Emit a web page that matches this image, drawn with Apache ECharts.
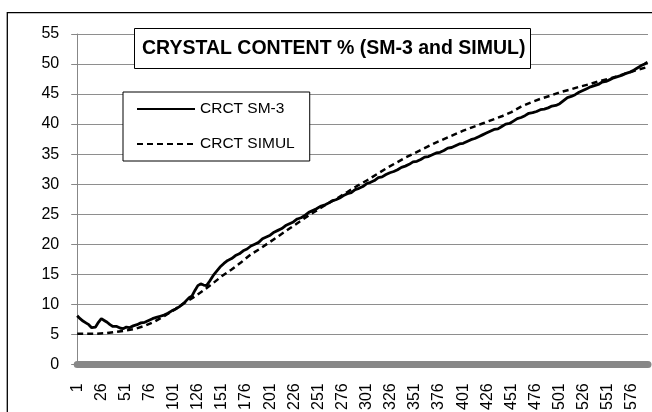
<!DOCTYPE html>
<html>
<head>
<meta charset="utf-8">
<script src="https://cdn.jsdelivr.net/npm/echarts@6/dist/echarts.min.js"></script>
<style>
  html, body { margin: 0; padding: 0; background: #fff; }
  #chart { width: 652px; height: 412px; }
</style>
</head>
<body>
<div id="chart"></div>
<script>
// x = sample number - 1 (axis labels show 1, 26, 51 ...)
const sm3X = [0, 3, 6, 9, 12, 15, 17, 19, 22, 25, 28, 31, 34, 37, 41, 45, 48, 51, 54, 58,
  62, 66, 70, 74, 78, 82, 86, 90, 94, 98, 102, 106, 110, 113, 116, 119, 122, 125, 128, 131,
  134, 137, 141, 145, 148, 152, 156, 160, 164, 168, 172, 176, 180, 184, 188, 192, 196, 200, 204, 208,
  212, 216, 220, 224, 228, 232, 236, 240, 244, 248, 252, 256, 260, 264, 268, 272, 276, 280, 284, 288,
  292, 296, 300, 304, 308, 312, 316, 320, 324, 328, 332, 336, 340, 344, 348, 352, 356, 360, 364, 368,
  372, 376, 380, 384, 388, 392, 396, 400, 404, 408, 412, 416, 420, 424, 428, 432, 436, 440, 444, 448,
  452, 456, 460, 464, 468, 472, 476, 480, 484, 488, 492, 496, 500, 504, 508, 512, 516, 520, 524, 528,
  532, 536, 540, 544, 548, 552, 556, 560, 564, 568, 572, 576, 580, 584, 588, 591]
const sm3Y = [8.1, 7.6, 7.2, 6.9, 6.6, 6.1, 5.8, 6.2, 7.0, 7.6, 7.3, 7.0, 6.6, 6.3, 6.3, 6.0, 5.95, 6.2, 6.1, 6.4,
  6.6, 6.9, 7.0, 7.3, 7.6, 7.8, 8.0, 8.2, 8.5, 8.9, 9.2, 9.6, 10.1, 10.6, 11.1, 11.4, 12.3, 13.1, 13.4, 13.2,
  13.1, 13.8, 14.8, 15.6, 16.2, 16.8, 17.3, 17.6, 18.1, 18.4, 18.9, 19.2, 19.7, 20.0, 20.3, 20.9, 21.2, 21.5, 22.0, 22.3,
  22.6, 23.1, 23.4, 23.7, 24.2, 24.4, 24.8, 25.3, 25.6, 25.9, 26.3, 26.5, 26.8, 27.2, 27.4, 27.7, 28.1, 28.4, 28.6, 29.1,
  29.3, 29.6, 30.1, 30.3, 30.6, 31.1, 31.2, 31.6, 31.9, 32.1, 32.4, 32.8, 33.0, 33.3, 33.7, 33.8, 34.1, 34.5, 34.6, 34.9,
  35.2, 35.3, 35.6, 36.0, 36.1, 36.4, 36.7, 36.8, 37.1, 37.4, 37.6, 37.9, 38.2, 38.5, 38.8, 39.1, 39.2, 39.6, 40.0, 40.1,
  40.5, 40.9, 41.1, 41.4, 41.8, 41.9, 42.1, 42.4, 42.5, 42.7, 43.0, 43.1, 43.4, 43.9, 44.4, 44.6, 44.9, 45.3, 45.6, 45.9,
  46.2, 46.4, 46.6, 47.0, 47.1, 47.4, 47.7, 47.9, 48.1, 48.4, 48.6, 48.9, 49.3, 49.7, 50.0, 50.3]

const simX = [0, 10, 20, 30, 40, 50, 60, 70, 80, 90, 100, 110, 120, 130, 140, 150, 160, 170, 180, 190,
  200, 210, 220, 230, 240, 250, 260, 270, 280, 290, 300, 310, 320, 330, 340, 350, 360, 370, 380, 390,
  400, 410, 420, 430, 440, 450, 460, 470, 480, 490, 500, 510, 520, 530, 540, 550, 560, 570, 580, 591]
const simY = [5.1, 5.1, 5.1, 5.2, 5.4, 5.6, 5.9, 6.4, 7.1, 8.0, 9.0, 10.1, 11.1, 12.2, 13.4, 14.7, 15.8, 17.0, 18.3, 19.3,
  20.4, 21.5, 22.6, 23.7, 24.8, 25.8, 26.8, 27.7, 28.7, 29.7, 30.6, 31.6, 32.6, 33.5, 34.4, 35.2, 36.0, 36.8, 37.5, 38.2,
  38.9, 39.5, 40.1, 40.7, 41.3, 42.0, 42.9, 43.6, 44.2, 44.7, 45.3, 45.7, 46.2, 46.6, 47.1, 47.5, 48.0, 48.5, 49.0, 49.5]

const yTicks = { min: 0, max: 55, interval: 5 }
const xTickStep = 25

const zip = (xs, ys) => xs.map((x, i) => [x, ys[i]])
const font = 'Liberation Sans, Arial, sans-serif'
const gray = '#878787'

const myChart = echarts.init(document.getElementById('chart'))
myChart.setOption({
  animation: false,
  title: {
    text: 'CRYSTAL CONTENT % (SM-3 and SIMUL)',
    left: 134,
    top: 28,
    padding: [10, 5, 10, 8],
    borderColor: '#000',
    borderWidth: 1,
    backgroundColor: '#fff',
    textStyle: {
      color: '#000',
      fontFamily: font,
      fontWeight: 'bold',
      fontSize: 19.5,
      lineHeight: 21
    }
  },
  legend: {
    orient: 'vertical',
    left: 123,
    top: 92,
    padding: [9, 15, 9, 13],
    itemGap: 19,
    itemWidth: 58,
    itemHeight: 14,
    borderColor: '#000',
    borderWidth: 1,
    backgroundColor: '#fff',
    itemStyle: { opacity: 0 },
    textStyle: {
      color: '#000',
      fontFamily: font,
      fontSize: 15.5
    },
    data: ['CRCT SM-3', 'CRCT SIMUL']
  },
  graphic: [{
    type: 'rect',
    z: -10,
    shape: { x: 7.3, y: 12.7, width: 700, height: 500 },
    style: { fill: 'none', stroke: '#000', lineWidth: 1.3 }
  }],
  grid: {
    left: 77.2,
    right: 4,
    top: 34,
    bottom: 47.7,
    outerBoundsMode: 'none'
  },
  xAxis: {
    type: 'value',
    min: 0,
    max: 591.5,
    interval: xTickStep,
    offset: 3.5,
    splitLine: { show: false },
    axisLine: { lineStyle: { color: gray, width: 7 } },
    axisTick: { show: false },
    axisLabel: {
      rotate: 90,
      margin: 15.5,
      color: '#000',
      fontFamily: font,
      fontSize: 16,
      showMaxLabel: false,
      formatter: v => (v % xTickStep === 0 ? String(v + 1) : '')
    }
  },
  yAxis: {
    type: 'value',
    min: yTicks.min,
    max: yTicks.max,
    interval: yTicks.interval,
    axisLine: { show: true, lineStyle: { color: gray } },
    axisTick: { show: true, length: 6, lineStyle: { color: gray } },
    axisLabel: {
      margin: 18,
      color: '#000',
      fontFamily: font,
      fontSize: 16
    },
    splitLine: { lineStyle: { color: '#8e8e8e', width: 1.2 } }
  },
  series: [
    {
      name: 'CRCT SM-3',
      type: 'line',
      symbol: 'none',
      lineStyle: { color: '#000', width: 2.8 },
      itemStyle: { color: '#000' },
      data: zip(sm3X, sm3Y)
    },
    {
      name: 'CRCT SIMUL',
      type: 'line',
      symbol: 'none',
      lineStyle: { color: '#000', width: 2.5, type: [6, 4] },
      itemStyle: { color: '#000' },
      data: zip(simX, simY)
    }
  ]
})
</script>
</body>
</html>
